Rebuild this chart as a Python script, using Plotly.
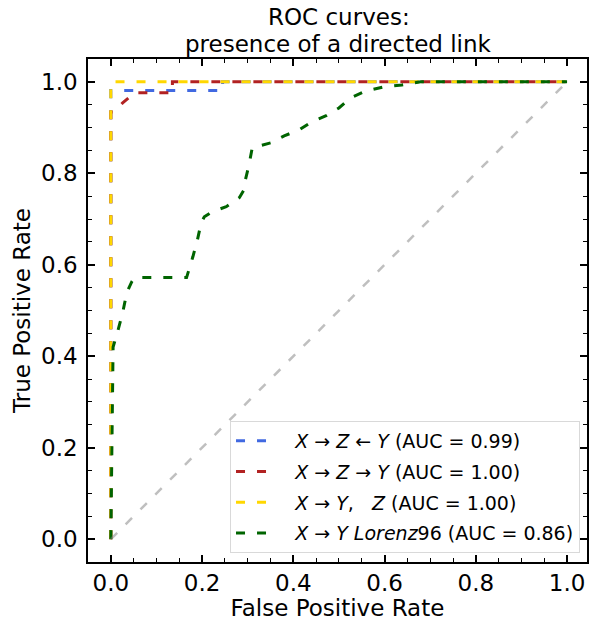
import plotly.graph_objects as go

# ---- data ----
fpr_blue = [0.0, 0.0, 0.245, 0.245, 1.0]
tpr_blue = [0.0, 0.981, 0.981, 1.0, 1.0]

fpr_red = [0.0, 0.0, 0.005, 0.026, 0.052, 0.135, 0.135, 1.0]
tpr_red = [0.0, 0.934, 0.934, 0.954, 0.976, 0.976, 1.0, 1.0]

fpr_yellow = [0.0, 0.0, 1.0]
tpr_yellow = [0.0, 1.0, 1.0]

fpr_green = [0.0, 0.005, 0.015, 0.026, 0.035, 0.046, 0.052, 0.166, 0.18, 0.19, 0.198,
             0.205, 0.222, 0.253, 0.282, 0.292, 0.295, 0.303, 0.31, 0.352, 0.38, 0.413,
             0.441, 0.472, 0.5, 0.526, 0.559, 0.598, 0.638, 0.679, 1.0]
tpr_green = [0.0, 0.42, 0.454, 0.495, 0.539, 0.563, 0.572, 0.572, 0.618, 0.655, 0.692,
             0.705, 0.716, 0.727, 0.747, 0.764, 0.786, 0.819, 0.856, 0.867, 0.882, 0.895,
             0.913, 0.926, 0.943, 0.965, 0.98, 0.989, 0.993, 1.0, 1.0]

diag = [0.0, 1.0]

names = [
    "<i>X</i> → <i>Z</i> ← <i>Y</i> (AUC = 0.99)",
    "<i>X</i> → <i>Z</i> → <i>Y</i> (AUC = 1.00)",
    "<i>X</i> → <i>Y</i>,   <i>Z</i> (AUC = 1.00)",
    "<i>X</i> → <i>Y</i> <i>Lorenz</i>96 (AUC = 0.86)",
]
colors = ["#4169E1", "#B22222", "#FFD700", "#006400"]
title_lines = ["ROC curves:", "presence of a directed link"]

DASH = "9px,12px"
FONT = "DejaVu Sans"
PAD = "&nbsp;&nbsp;&nbsp;&nbsp;"

fig = go.Figure()
for i, (xs, ys, nm, c) in enumerate(zip([fpr_blue, fpr_red, fpr_yellow, fpr_green],
                                        [tpr_blue, tpr_red, tpr_yellow, tpr_green], names, colors)):
    fig.add_trace(go.Scatter(x=xs, y=ys, mode="lines", name=PAD + nm, legendgroup=f"g{i}",
                             line=dict(color=c, width=3, dash=DASH)))
fig.add_trace(go.Scatter(x=diag, y=diag, mode="lines", showlegend=False, opacity=0.5,
                         line=dict(color="gray", width=2.5, dash=DASH)))

axis_common = dict(
    showline=True, linecolor="black", linewidth=1.5, mirror="ticks",
    ticks="inside", ticklen=7, tickwidth=1.5, tickcolor="black",
    showgrid=False, zeroline=False,
    tickfont=dict(family=FONT, size=23, color="black"),
    minor=dict(ticks="inside", ticklen=4, tickwidth=1, tickcolor="black", dtick=0.05, showgrid=False),
    tickvals=[0, 0.2, 0.4, 0.6, 0.8, 1.0],
    ticktext=["0.0", "0.2", "0.4", "0.6", "0.8", "1.0"],
)

fig.update_xaxes(range=[-0.05, 1.0437], ticklabelstandoff=0,
                 title=dict(text="False Positive Rate", font=dict(family=FONT, size=23, color="black"), standoff=7),
                 **axis_common)
fig.update_yaxes(range=[-0.05, 1.05], ticklabelstandoff=4,
                 title=dict(text="True Positive Rate", font=dict(family=FONT, size=23, color="black"), standoff=4),
                 **axis_common)

fig.add_annotation(text=title_lines[0], xref="x", yref="paper",
                   x=0.5, y=1, yanchor="bottom", yshift=27, showarrow=False,
                   font=dict(family=FONT, size=23, color="black"))
fig.add_annotation(text=title_lines[1], xref="x", yref="paper",
                   x=0.5, y=1, yanchor="bottom", yshift=0, showarrow=False,
                   font=dict(family=FONT, size=23, color="black"))

fig.update_layout(
    width=589, height=621,
    margin=dict(l=88, r=0, t=59, b=59),
    paper_bgcolor="white", plot_bgcolor="white",
    font=dict(family=FONT, color="black"),
    legend=dict(x=0.986, y=0.018, xanchor="right", yanchor="bottom",
                bgcolor="white", bordercolor="#D9D9D9", borderwidth=1,
                traceorder="grouped", tracegroupgap=3,
                font=dict(family=FONT, size=19, color="black")),
)

fig.write_html("out.html")
